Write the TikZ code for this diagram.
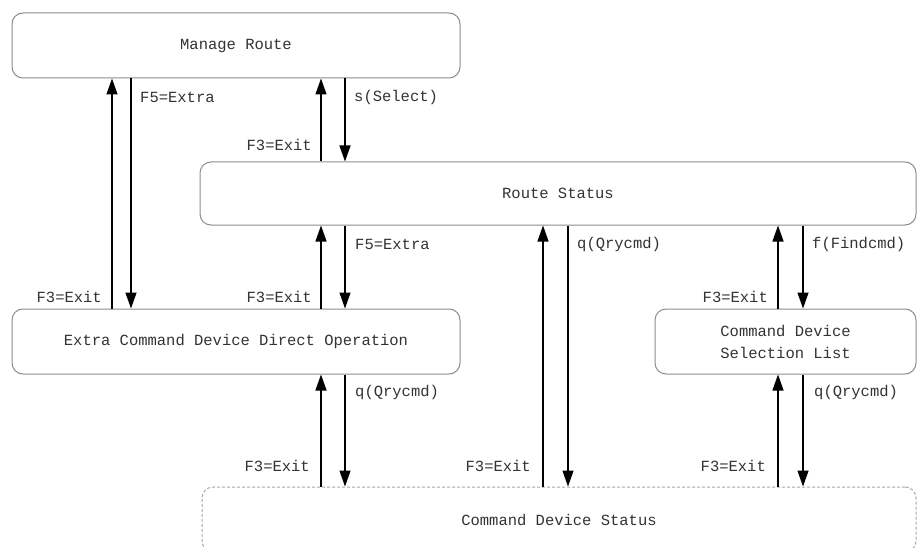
\documentclass[tikz,border=0pt]{standalone}
\usepackage{fontspec}
\newfontfamily\screenfont{Liberation Mono}
\usepackage{tikz}
\usetikzlibrary{arrows.meta}

\tikzset{
  screen/.style={draw=black!45, line width=1pt, rounded corners=11pt, text=black!80},
  ghost/.style={screen, dash pattern=on 3pt off 2pt, draw=black!35},
  keyarr/.style={-{Triangle[length=16pt,width=11pt]}, line width=1.3pt},
  keylbl/.style={text=black!80, inner sep=0pt}
}

\begin{document}
\begin{tikzpicture}[x=1pt, y=-1pt, font=\screenfont\fontsize{15.5}{18}\selectfont]
          \clip (0,0) rectangle (917,548);

          \node [screen, minimum width=448, minimum height=65] (manage) at (236,45.5) {Manage Route}; % top screen
          \node [screen, minimum width=716, minimum height=63] (route) at (558,193.5) {Route Status};
          \node [screen, minimum width=448, minimum height=65] (extra) at (236,341.5) {Extra Command Device Direct Operation};
          \node [screen, minimum width=261, minimum height=65, align=center, font=\screenfont\fontsize{15.5}{22}\selectfont] (sellist) at (785.5,341.5) {Command Device\\Selection List};
          \node [ghost, minimum width=714, minimum height=65] (cdstat) at (559,519.5) {Command Device Status}; % cut off at the bottom

          \coordinate (xa) at (112,0);
          \coordinate (xb) at (131,0);
          \coordinate (xc) at (321,0);
          \coordinate (xd) at (345,0);
          \coordinate (xe) at (543,0);
          \coordinate (xf) at (568,0);
          \coordinate (xg) at (778,0);
          \coordinate (xh) at (803,0);

          \draw [keyarr] (extra.north -| xa) -- (manage.south -| xa);
          \draw [keyarr] (manage.south -| xb) -- (extra.north -| xb);

          \draw [keyarr] (route.north -| xc) -- (manage.south -| xc);
          \draw [keyarr] (manage.south -| xd) -- (route.north -| xd);

          \draw [keyarr] (extra.north -| xc) -- (route.south -| xc);
          \draw [keyarr] (route.south -| xd) -- (extra.north -| xd);

          \draw [keyarr] (cdstat.north -| xe) -- (route.south -| xe);
          \draw [keyarr] (route.south -| xf) -- (cdstat.north -| xf);

          \draw [keyarr] (sellist.north -| xg) -- (route.south -| xg);
          \draw [keyarr] (route.south -| xh) -- (sellist.north -| xh);

          \draw [keyarr] (cdstat.north -| xc) -- (extra.south -| xc);
          \draw [keyarr] (extra.south -| xd) -- (cdstat.north -| xd);

          \draw [keyarr] (cdstat.north -| xg) -- (sellist.south -| xg);
          \draw [keyarr] (sellist.south -| xh) -- (cdstat.north -| xh);

          \node [keylbl, anchor=west] (l1) at (140,97) {F5=Extra};
          \node [keylbl, anchor=east] (l2) at (102,297) {F3=Exit};
          \node [keylbl, anchor=west] (l3) at (354,97) {s(Select)};
          \node [keylbl, anchor=east] (l4) at (312,145) {F3=Exit};
          \node [keylbl, anchor=west] (l5) at (355,244) {F5=Extra};
          \node [keylbl, anchor=east] (l6) at (312,297) {F3=Exit};
          \node [keylbl, anchor=west] (l7) at (577,244) {q(Qrycmd)};
          \node [keylbl, anchor=east] (l8) at (531,466) {F3=Exit};
          \node [keylbl, anchor=west] (l9) at (812,244) {f(Findcmd)};
          \node [keylbl, anchor=east] (l10) at (768,297) {F3=Exit};
          \node [keylbl, anchor=west] (l11) at (355,392) {q(Qrycmd)};
          \node [keylbl, anchor=east] (l12) at (310,466) {F3=Exit};
          \node [keylbl, anchor=west] (l13) at (814,392) {q(Qrycmd)};
          \node [keylbl, anchor=east] (l14) at (766,466) {F3=Exit};
\end{tikzpicture}
\end{document}
